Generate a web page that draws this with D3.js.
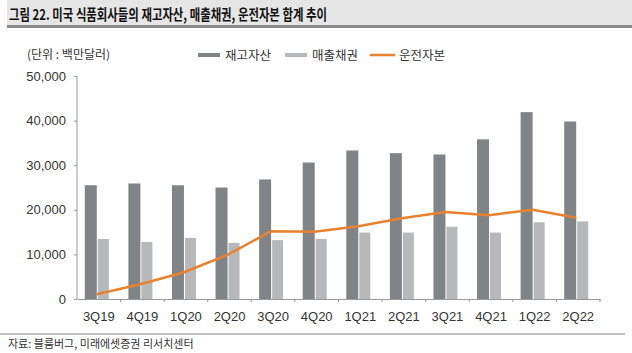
<!DOCTYPE html>
<html>
<head>
<meta charset="utf-8">
<script src="https://cdn.jsdelivr.net/npm/d3@7"></script>
<style>
  body { margin: 0; background: #fff; }
  svg text { font-family: "Liberation Sans", Arial, sans-serif; }
  .kr { font-family: "Noto Sans CJK KR", sans-serif; }
</style>
</head>
<body>
<div class="canvas"></div>
<script>
// data
const quarters = ['3Q19', '4Q19', '1Q20', '2Q20', '3Q20', '4Q20', '1Q21', '2Q21', '3Q21', '4Q21', '1Q22', '2Q22'];
const inventory = [25500, 25900, 25500, 25000, 26800, 30600, 33300, 32700, 32400, 35800, 41900, 39800];
const receivables = [13450, 12800, 13700, 12600, 13200, 13450, 14900, 14900, 16200, 14900, 17200, 17400];
const workingCapital = [1050, 3300, 6000, 9900, 15200, 15100, 16300, 18100, 19500, 18800, 20000, 18200];
const yTicks = [0, 10000, 20000, 30000, 40000, 50000];
const seriesNames = ['재고자산', '매출채권', '운전자본'];

const width = 632, height = 353;
const margin = { top: 76, right: 32, bottom: 54, left: 77 };
const graphWidth = width - margin.left - margin.right;
const graphHeight = height - margin.top - margin.bottom;

const svg = d3.select('.canvas')
  .append('svg')
  .attr('width', width)
  .attr('height', height);

// title bar
svg.append('rect')
  .attr('x', 7).attr('y', 0)
  .attr('width', width - 7).attr('height', 26)
  .attr('fill', '#e6e6e6');
svg.append('rect')
  .attr('x', 7).attr('y', 25)
  .attr('width', width - 7).attr('height', 3)
  .attr('fill', '#8a8a8a');
svg.append('text')
  .attr('class', 'kr')
  .attr('x', 9).attr('y', 20)
  .attr('font-size', 15)
  .attr('font-weight', 700)
  .attr('fill', '#111')
  .attr('textLength', 318)
  .attr('lengthAdjust', 'spacingAndGlyphs')
  .text('그림 22. 미국 식품회사들의 재고자산, 매출채권, 운전자본 합계 추이');

// unit
svg.append('text')
  .attr('class', 'kr')
  .attr('x', 27).attr('y', 59)
  .attr('font-size', 12)
  .attr('fill', '#333')
  .text('(단위 : 백만달러)');

const graph = svg.append('g')
  .attr('transform', `translate(${margin.left}, ${margin.top})`);

// scales
const x = d3.scaleBand().domain(quarters).range([0, graphWidth]);
const y = d3.scaleLinear().domain([0, 50000]).range([graphHeight, 0]);
const barW = 12;
const center = d => x(d) + x.bandwidth() / 2 - 2;

// bars
graph.selectAll('rect.inv')
  .data(quarters)
  .enter().append('rect')
  .attr('class', 'inv')
  .attr('x', d => center(d) - barW)
  .attr('y', (d, i) => y(inventory[i]))
  .attr('width', barW)
  .attr('height', (d, i) => graphHeight - y(inventory[i]))
  .attr('fill', '#818487');

graph.selectAll('rect.rec')
  .data(quarters)
  .enter().append('rect')
  .attr('class', 'rec')
  .attr('x', d => center(d) + 1)
  .attr('y', (d, i) => y(receivables[i]))
  .attr('width', barW - 1)
  .attr('height', (d, i) => graphHeight - y(receivables[i]))
  .attr('fill', '#b7b8ba');

// working capital line
const line = d3.line()
  .x(d => center(d.q))
  .y(d => y(d.v));

graph.append('path')
  .datum(quarters.map((q, i) => ({ q: q, v: workingCapital[i] })))
  .attr('fill', 'none')
  .attr('stroke', '#e8822f')
  .attr('stroke-width', 2.5)
  .attr('stroke-linejoin', 'round')
  .attr('d', line);

// axes
const yAxis = d3.axisLeft(y)
  .tickValues(yTicks)
  .tickSize(3)
  .tickPadding(8)
  .tickFormat(d3.format(','));
const yAxisGroup = graph.append('g').call(yAxis);
yAxisGroup.select('.domain').attr('stroke', '#999').attr('d', `M0,0V${graphHeight}`);
yAxisGroup.selectAll('line').attr('stroke', '#999');
yAxisGroup.selectAll('text')
  .attr('font-size', 13)
  .attr('fill', '#333');

const xAxisGroup = graph.append('g')
  .attr('transform', `translate(0, ${graphHeight})`)
  .call(d3.axisBottom(x).tickSize(0).tickPadding(10));
xAxisGroup.select('.domain').attr('stroke', '#999');
xAxisGroup.selectAll('text')
  .attr('font-size', 13)
  .attr('fill', '#333')
  .attr('dy', '0.9em');

// small ticks between categories
graph.append('g')
  .selectAll('line')
  .data(quarters.slice(1).concat(['end']))
  .enter().append('line')
  .attr('x1', (d, i) => x.step() * (i + 1))
  .attr('x2', (d, i) => x.step() * (i + 1))
  .attr('y1', graphHeight)
  .attr('y2', graphHeight + 3)
  .attr('stroke', '#999');

// legend
const legend = svg.append('g');
const legendX = [198, 285, 370];
legend.selectAll('rect')
  .data(seriesNames.slice(0, 2))
  .enter().append('rect')
  .attr('x', (d, i) => legendX[i])
  .attr('y', 53)
  .attr('width', 22)
  .attr('height', 4)
  .attr('fill', (d, i) => ['#818487', '#b7b8ba'][i]);
legend.append('line')
  .attr('x1', legendX[2]).attr('x2', legendX[2] + 25)
  .attr('y1', 55).attr('y2', 55)
  .attr('stroke', '#e8822f')
  .attr('stroke-width', 2.5);
legend.selectAll('text')
  .data(seriesNames)
  .enter().append('text')
  .attr('class', 'kr')
  .attr('x', (d, i) => legendX[i] + (i == 2 ? 29 : 27))
  .attr('y', 59.5)
  .attr('font-size', 12.5)
  .attr('fill', '#333')
  .text(d => d);

// footer
svg.append('line')
  .attr('x1', 0).attr('x2', 625)
  .attr('y1', 334).attr('y2', 334)
  .attr('stroke', '#aaa')
  .attr('stroke-width', 1.5);
svg.append('text')
  .attr('class', 'kr')
  .attr('x', 8).attr('y', 348)
  .attr('font-size', 11)
  .attr('fill', '#333')
  .text('자료: 블룸버그, 미래에셋증권 리서치센터');
</script>
</body>
</html>
